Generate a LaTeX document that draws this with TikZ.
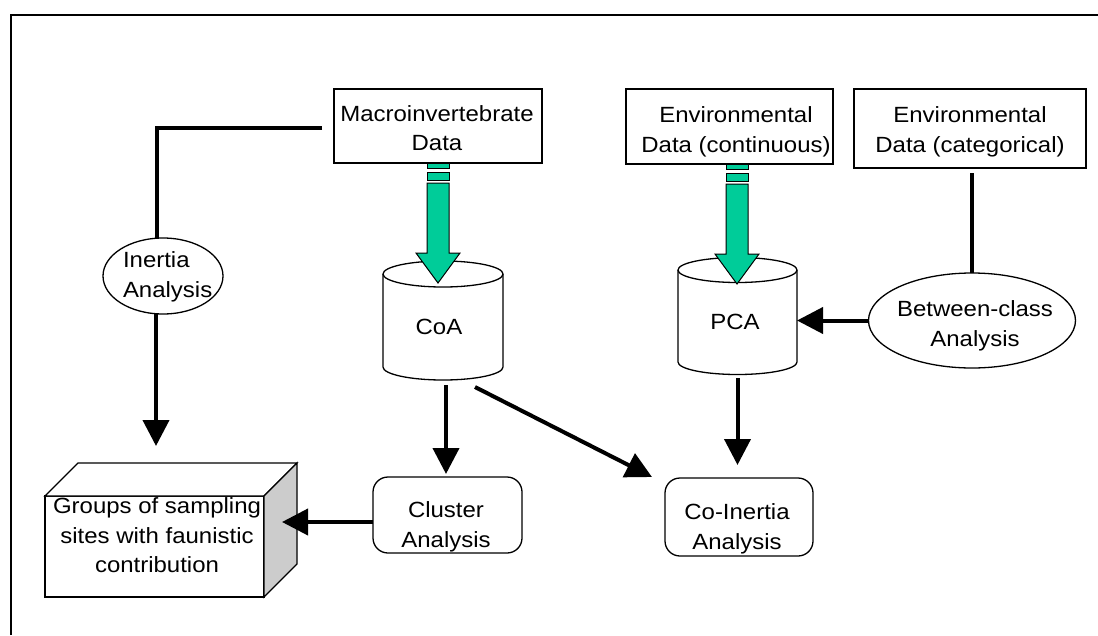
\documentclass[tikz,border=0pt]{standalone}
\usepackage{fontspec}
\setmainfont{Liberation Sans}[FakeStretch=1.09]
\usetikzlibrary{arrows.meta,shapes.geometric,calc}
\definecolor{flowgreen}{RGB}{0,204,153}

% cylinder body: centre x, top-centre y, bottom-centre y, x radius, y radius
\newcommand\drumshape[5]{%
  \filldraw[fill=white, line width=1.3pt] (#1-#4,#2) -- (#1-#4,#3)
    arc[start angle=180, end angle=360, x radius=#4pt, y radius=#5pt] -- (#1+#4,#2);
  \filldraw[fill=white, line width=1.3pt] (#1,#2) ellipse[x radius=#4pt, y radius=#5pt];
}
% thick green data-flow arrow hanging from a point
\newcommand\flowarrow[1]{%
  \begin{scope}[shift={(#1)}]
    \filldraw[greenfill] (-11,0) rectangle (11,5);
    \filldraw[greenfill] (-11,9) rectangle (11,17);
    \filldraw[greenfill] (-11,20) -- (11,20) -- (11,90) -- (22,90) -- (0,120)
      -- (-22,90) -- (-11,90) -- cycle;
  \end{scope}}

\begin{document}
\begin{tikzpicture}[x=1pt,y=-1pt,
  every node/.style={font=\fontsize{22}{29.5}\selectfont, inner sep=0pt, outer sep=0pt},
  boxnode/.style={draw, line width=1.3pt, fill=white},
  roundbox/.style={draw, line width=1.3pt, rounded corners=15pt, fill=white},
  ovalnode/.style={draw, ellipse, line width=1.3pt, fill=white},
  txt/.style={align=center},
  conn/.style={line width=4pt},
  arr/.style={conn, -{Triangle[length=26pt,width=26pt]}},
  greenfill/.style={draw, fill=flowgreen, line width=1pt}]

\useasboundingbox (0,0) rectangle (1098,635);
\draw[line width=2pt] (11,635) -- (11,15) -- (1098,15);

% data boxes
\node[boxnode, minimum width=208pt, minimum height=74pt] (macro) at (438,126) {};
\node[boxnode, minimum width=207pt, minimum height=75pt] (envc) at (729.5,126.5) {};
\node[boxnode, minimum width=232pt, minimum height=79pt] (envk) at (970,128.5) {};
\node[txt] (macroT) at (437,128) {Macroinvertebrate\\Data};
\node[txt] (envcT) at (736,132) {Environmental\\Data (continuous)};
\node[txt] (envkT) at (970,132) {Environmental\\Data (categorical)};

% ordinations
\drumshape{443}{274}{367}{60}{13}
\drumshape{737.5}{270}{362}{59.5}{12.5}
\node[minimum width=120pt, minimum height=118pt] (coa) at (443,326) {};
\node[minimum width=119pt, minimum height=114pt] (pca) at (737.5,321) {};
\node (coaT) at (439,327) {CoA};
\node (pcaT) at (735,321.5) {PCA};

\flowarrow{macro.south}
\flowarrow{$(envc.south)+(7.5,0)$}

% analyses
\node[ovalnode, minimum width=120pt, minimum height=76pt] (inertia) at (163,276) {};
\node[align=left, anchor=west] (inertiaT) at (123,277) {Inertia\\Analysis};
\node[ovalnode, minimum width=207pt, minimum height=95pt] (between) at (972,320.5) {};
\node[txt] (betweenT) at (975,326) {Between-class\\Analysis};
\node[roundbox, minimum width=149pt, minimum height=76pt] (cluster) at (447.5,515) {};
\node[txt] (clusterT) at (446,527) {Cluster\\Analysis};
\node[roundbox, minimum width=148pt, minimum height=78pt] (coin) at (739,517) {};
\node[txt] (coinT) at (737,529) {Co-Inertia\\Analysis};

% result block
\node[boxnode, minimum width=219pt, minimum height=101pt] (groups) at (154.5,546.5) {};
\filldraw[fill=white, line width=1.3pt] (groups.north west) -- ++(33,-33) -- ++(219,0)
  -- (groups.north east) -- cycle;
\filldraw[fill=gray!40, line width=1.3pt] (groups.north east) -- ++(33,-33) -- ++(0,101)
  -- (groups.south east) -- cycle;
\node[txt] (groupsT) at (157,535.5) {Groups of sampling\\sites with faunistic\\contribution};

% connectors
\coordinate (inertiaIn) at ($(macro.west)+(-12,2)$);
\draw[conn] (inertiaIn) -| ($(inertia.north)+(-6,0)$);
\coordinate (groupsIn) at ($(groups.north)+(1.5,-50)$);
\draw[arr] ($(inertia.south)+(-7,0)$) -- (groupsIn);
\draw[arr] ($(coa.south)+(3,0)$) -- ($(cluster.north)+(-1.5,-3)$);
\draw[arr] ($(coa.south east)+(-28,2)$) -- ($(coin.north west)+(-13,-1)$);
\coordinate (coinIn) at ($(coin.north)+(0,-13)$);
\draw[arr] (pca.south) -- (pca.south |- coinIn);
\draw[conn] ($(envk.south)+(2,5)$) -- (between.north);
\draw[arr] (between.west) -- (between.west -| pca.east);
\draw[arr] ($(cluster.west)+(0,7)$) -- ($(groups.east)+(18,-24.5)$);
\end{tikzpicture}
\end{document}
